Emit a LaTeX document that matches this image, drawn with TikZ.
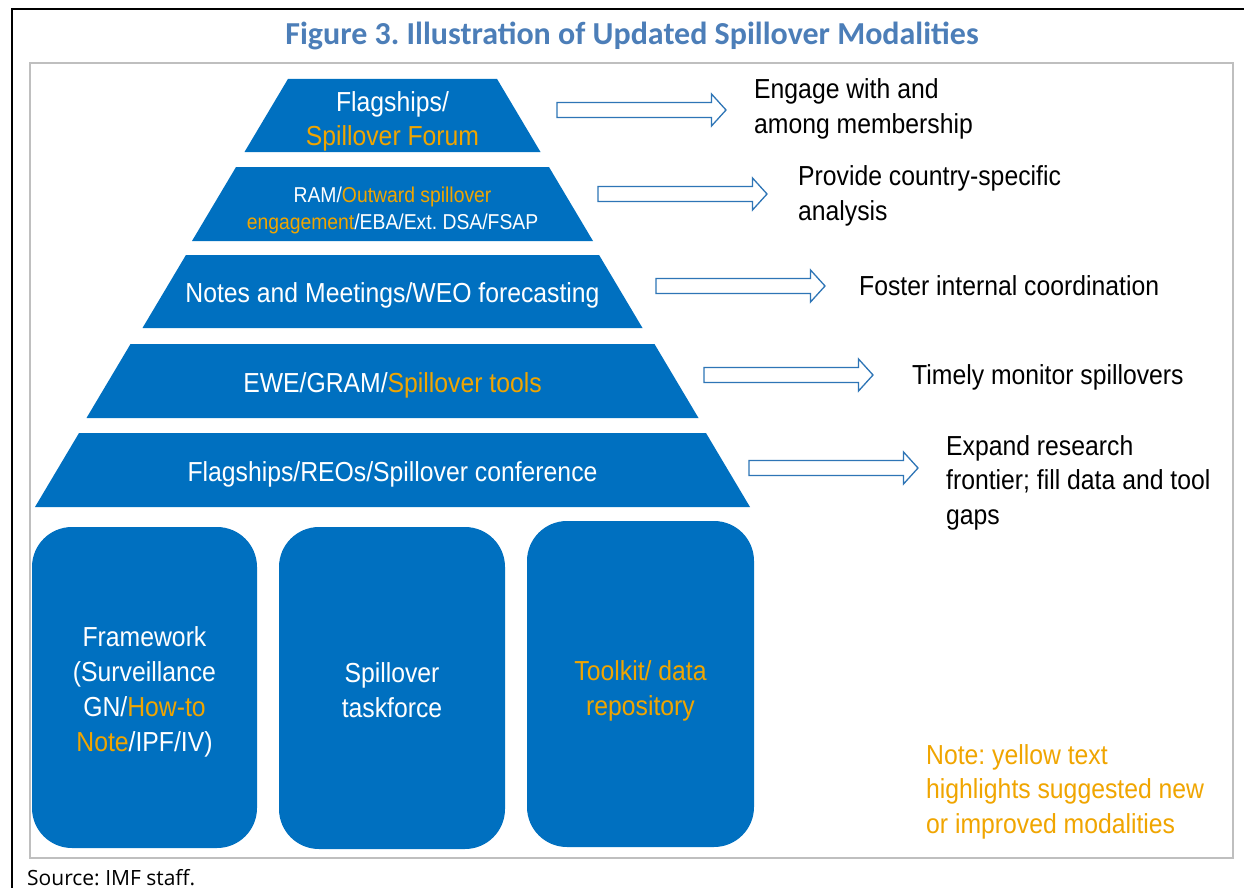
\documentclass[tikz,border=0pt]{standalone}
\usepackage{fontspec}
\setmainfont{Liberation Sans}[FakeStretch=0.9]
\newfontfamily\titlefont{Carlito}
\newfontfamily\srcfont{Open Sans}
\definecolor{pyblue}{RGB}{0,112,192}
\definecolor{hiy}{RGB}{240,165,0}
\definecolor{titleblue}{RGB}{76,126,184}
\definecolor{arrblue}{RGB}{46,117,182}
\definecolor{framegray}{RGB}{191,191,191}
\newcommand{\hy}[1]{\textcolor{hiy}{#1}}
\frenchspacing
\begin{document}
\begin{tikzpicture}[x=1pt,y=-1pt,
  tier/.style={fill=pyblue},
  tiertext/.style={text=white,font=\fontsize{27.5}{34.5}\selectfont,align=center,inner sep=0,anchor=base},
  smalltext/.style={text=white,font=\fontsize{21.5}{27}\selectfont,align=center,inner sep=0,anchor=base},
  sidetext/.style={text=black,font=\fontsize{27.5}{34.5}\selectfont,align=left,inner sep=0,anchor=base west},
  box/.style={fill=pyblue,rounded corners=40,inner sep=0},
  boxtext/.style={text=white,font=\fontsize{27.5}{35}\selectfont,align=center,inner sep=0,anchor=base},
  blockarrow/.style={draw=arrblue,line width=1.3,fill=white}]
\useasboundingbox (0,0) rectangle (1244,888);
\fill[white] (0,0) rectangle (1244,888);
% outer frames
\draw[line width=2.5] (12,900) -- (12,9) -- (1260,9);
\draw[framegray,line width=2] (30,63) rectangle (1233,858);
% title
\node[anchor=base,inner sep=0,text=titleblue,font=\titlefont\bfseries\fontsize{32}{36}\selectfont] (title) at (632,45) {Figure 3. Illustration of Updated Spillover Modalities};
% pyramid tiers
\foreach \t/\b/\h in {79/152/148, 167/241/200.5, 255/328/250, 344/418/306, 433/507/357.5}{
  \pgfmathsetmacro{\ins}{0.595*(\b-\t)}
  \fill[tier] (392.5-\h,\b) -- (392.5+\h,\b) -- (392.5+\h-\ins,\t) -- (392.5-\h+\ins,\t) -- cycle;
}
\node[tiertext] (t1) at (392.5,146) {Flagships/\\\hy{Spillover Forum}};
\node[smalltext] (t2) at (392.5,229) {RAM/\hy{Outward spillover}\\\hy{engagement}/EBA/Ext. DSA/FSAP};
\node[tiertext] (t3) at (392.5,302) {Notes and Meetings/WEO forecasting};
\node[tiertext] (t4) at (392.5,392) {EWE/GRAM/\hy{Spillover tools}};
\node[tiertext] (t5) at (392.5,481) {Flagships/REOs/Spillover conference};
% bottom boxes
\node[box,minimum width=225,minimum height=321] (b1) at (144.5,687.5) {};
\node[box,minimum width=226,minimum height=322] (b2) at (392,688) {};
\node[box,minimum width=227,minimum height=326] (b3) at (640.5,684) {};
\node[boxtext] (b1t) at (b1.center |- 0,751) {Framework\\(Surveillance\\GN/\hy{How-to}\\\hy{Note}/IPF/IV)};
\node[boxtext] (b2t) at (b2.center |- 0,717) {Spillover\\taskforce};
\node[boxtext] (b3t) at (b3.center |- 0,715) {\hy{Toolkit/ data}\\\hy{repository}};
% block arrows
\foreach \y/\x in {110/557, 194/598, 286/656, 375/704, 468/749}{
  \draw[blockarrow] (\x,\y-7.5) -- ++(154.5,0) -- ++(0,-8.5) -- (\x+169,\y) -- (\x+154.5,\y+16) -- ++(0,-8.5) -- (\x,\y+7.5) -- cycle;
}
% side texts
\node[sidetext] (s1) at (754,133) {Engage with and\\among membership};
\node[sidetext] (s2) at (798,220) {Provide country-specific\\analysis};
\node[sidetext] (s3) at (859,295) {Foster internal coordination};
\node[sidetext] (s4) at (912,384) {Timely monitor spillovers};
\node[sidetext] (s5) at (946,524) {Expand research\\frontier; fill data and tool\\gaps};
\node[sidetext,text=hiy] (note) at (926,833) {Note: yellow text\\highlights suggested new\\or improved modalities};
% source
\node[anchor=base west,inner sep=0,font=\srcfont\fontsize{21}{25}\selectfont] (src) at (27,885) {Source: IMF staff.};
\end{tikzpicture}
\end{document}
